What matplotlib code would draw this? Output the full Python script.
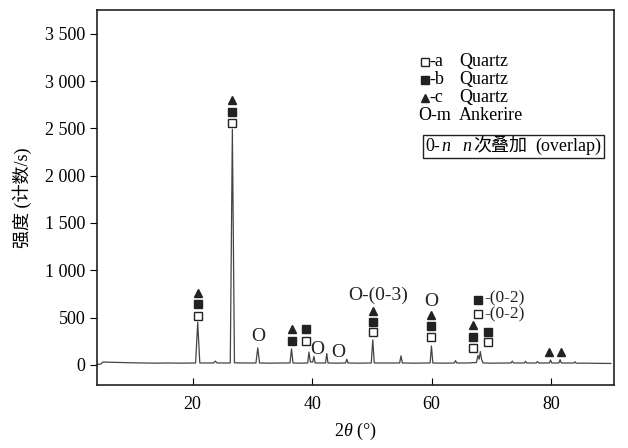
import matplotlib

matplotlib.use("Agg")
import matplotlib.pyplot as plt
from matplotlib.patches import Rectangle
from matplotlib.ticker import FuncFormatter

plt.rcParams["font.family"] = ["Liberation Serif", "Noto Sans CJK SC"]
plt.rcParams["mathtext.fontset"] = "custom"
plt.rcParams["mathtext.it"] = "Liberation Serif:italic"
plt.rcParams["mathtext.rm"] = "Liberation Serif"

# XRD pattern (2theta in degrees, counts/s)
two_theta = [
    4.0, 4.6, 5.0, 6.0, 8.0, 10.0, 12.0, 14.0, 16.0, 18.0, 20.5, 20.85, 21.2,
    23.5, 23.8, 24.1, 26.3, 26.65, 27.0, 28.5, 30.6, 30.9, 31.2, 33.0, 35.0,
    36.3, 36.55, 36.8, 38.0, 39.25, 39.47, 39.7, 40.1, 40.3, 40.5, 42.25,
    42.45, 42.65, 44.0, 45.6, 45.8, 46.0, 48.0, 49.9, 50.15, 50.4, 52.0,
    54.65, 54.87, 55.1, 57.0, 59.75, 59.97, 60.2, 62.0, 63.8, 64.0, 64.2,
    66.0, 67.5, 67.75, 67.95, 68.15, 68.35, 68.6, 70.0, 73.3, 73.5, 73.7,
    75.5, 75.7, 75.9, 77.5, 77.7, 77.9, 79.7, 79.9, 80.1, 81.3, 81.5, 81.7,
    83.8, 84.0, 84.2, 86.0, 88.0, 90.0,
]
intensity = [
    5, 8, 30, 28, 25, 22, 20, 18, 20, 18, 20, 450, 20,
    20, 40, 20, 20, 2490, 22, 20, 20, 180, 20, 18, 20,
    20, 170, 20, 18, 20, 135, 30, 30, 90, 20, 20,
    120, 20, 18, 20, 60, 20, 18, 20, 265, 20, 20,
    20, 95, 20, 18, 20, 200, 20, 18, 20, 45, 20,
    20, 25, 100, 60, 140, 60, 20, 18, 20, 40, 20,
    20, 38, 20, 20, 35, 20, 20, 50, 20, 20, 55, 20,
    20, 32, 18, 18, 16, 15,
]

# peak markers: open square = a-Quartz, filled square = b-Quartz, triangle = c-Quartz
open_sq_x = [20.85, 26.65, 39.0, 50.15, 59.97, 67.0, 69.4, 67.7]
open_sq_y = [518, 2558, 254, 349, 296, 180, 243, 540]
filled_sq_x = [20.85, 26.65, 36.55, 39.0, 50.15, 59.97, 67.0, 69.4, 67.7]
filled_sq_y = [645, 2674, 254, 380, 455, 412, 296, 349, 690]
triangle_x = [20.85, 26.65, 36.55, 50.15, 59.97, 67.0, 79.7, 81.6]
triangle_y = [761, 2800, 380, 570, 528, 423, 137, 137]
ankerite_x = [30.9, 40.9, 44.4, 59.97]
ankerite_y = [296, 160, 127, 666]

x_ticks = [20, 40, 60, 80]
y_ticks = [0, 500, 1000, 1500, 2000, 2500, 3000, 3500]

INK = "#222222"

fig = plt.figure(figsize=(6.28, 4.48), dpi=100)
ax = fig.add_axes([0.1545, 0.141, 0.823, 0.837])

ax.plot(two_theta, intensity, color="#444444", lw=0.9)

ms = 5.5
ax.plot(open_sq_x, open_sq_y, ls="none", marker="s", ms=ms, mfc="white", mec=INK, mew=1.0)
ax.plot(filled_sq_x, filled_sq_y, ls="none", marker="s", ms=ms, mfc=INK, mec=INK)
ax.plot(triangle_x, triangle_y, ls="none", marker="^", ms=ms, mfc=INK, mec=INK)
for x, y in zip(ankerite_x, ankerite_y):
    ax.text(x, y, "O", ha="center", va="center", fontsize=14, color=INK)

# overlap labels
ax.text(46.0, 740, "O-(0-3)", ha="left", va="center", fontsize=14, color=INK)
ax.text(68.8, 700, "-(0-2)", ha="left", va="center", fontsize=12.5, color=INK)
ax.text(68.8, 530, "-(0-2)", ha="left", va="center", fontsize=12.5, color=INK)

# legend block
tr = ax.transAxes
ax.plot([0.634], [0.861], transform=tr, marker="s", ms=5.5, mfc="white", mec=INK, ls="none")
ax.plot([0.634], [0.813], transform=tr, marker="s", ms=5.5, mfc=INK, mec=INK, ls="none")
ax.plot([0.634], [0.765], transform=tr, marker="^", ms=5.5, mfc=INK, mec=INK, ls="none")
ax.text(0.644, 0.861, "-a", transform=tr, va="center", fontsize=13)
ax.text(0.644, 0.813, "-b", transform=tr, va="center", fontsize=13)
ax.text(0.644, 0.765, "-c", transform=tr, va="center", fontsize=13)
for yy in [0.861, 0.813, 0.765]:
    ax.text(0.700, yy, "Quartz", transform=tr, va="center", fontsize=13)
ax.text(0.622, 0.718, "O-m", transform=tr, va="center", fontsize=13)
ax.text(0.700, 0.718, "Ankerire", transform=tr, va="center", fontsize=13)

# boxed note "0-n  n次叠加 (overlap)", pieces laid out left to right
ax.add_patch(Rectangle((0.6306, 0.6053), 0.350, 0.0614, transform=tr,
                       fill=False, ec=INK, lw=1.0))
pieces = [("0-", "normal", 0.0), ("n", "italic", 0.0), ("n", "italic", 0.020),
          ("次叠加", "normal", 0.002), ("(overlap)", "normal", 0.014)]
fig.canvas.draw()
renderer = fig.canvas.get_renderer()
x_cur = 0.636
for s, style, gap in pieces:
    x_cur += gap
    t = ax.text(x_cur, 0.636, s, transform=tr, va="center", fontsize=13, style=style)
    bb = t.get_window_extent(renderer).transformed(tr.inverted())
    x_cur = bb.x1 + 0.002

ax.set_xlim(4.0, 90.5)
ax.set_ylim(-211, 3753)
ax.set_xticks(x_ticks)
ax.set_yticks(y_ticks)
ax.yaxis.set_major_formatter(FuncFormatter(lambda v, p: f"{v:,.0f}".replace(",", " ")))
ax.tick_params(axis="x", direction="in", length=5, labelsize=13, pad=8)
ax.tick_params(axis="y", direction="out", length=5, labelsize=13)
for s in ax.spines.values():
    s.set_linewidth(1.2)
    s.set_color(INK)

ax.set_xlabel(r"2$\theta$ (°)", fontsize=13, labelpad=6)
ax.set_ylabel("强度 (计数/s)", fontsize=13, labelpad=9)

fig.savefig("out.png", dpi=100)
